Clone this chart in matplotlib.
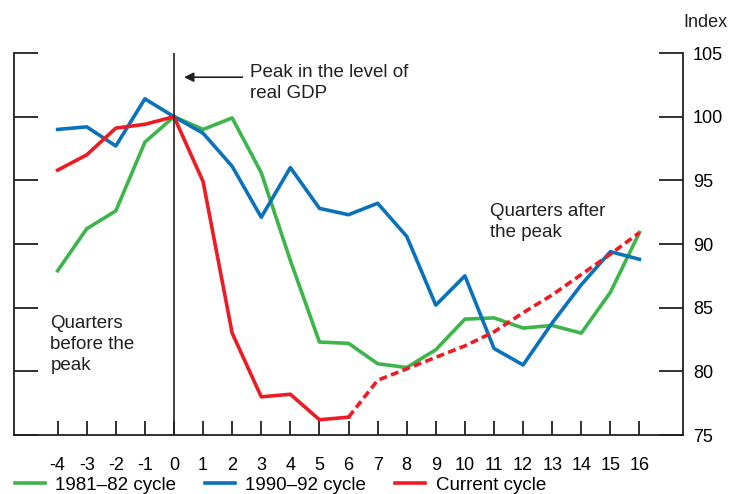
import matplotlib
matplotlib.use("Agg")
import matplotlib.pyplot as plt

plt.rcParams['font.family'] = ['Liberation Sans', 'DejaVu Sans']

quarters = list(range(-4, 17))
cycle_8182 = [87.9, 91.2, 92.6, 98.0, 100.0, 99.0, 99.9, 95.6, 88.7, 82.3, 82.2,
              80.6, 80.3, 81.7, 84.1, 84.2, 83.4, 83.6, 83.0, 86.2, 90.9]
cycle_9092 = [99.0, 99.2, 97.7, 101.4, 100.0, 98.7, 96.1, 92.1, 96.0, 92.8, 92.3,
              93.2, 90.6, 85.2, 87.5, 81.8, 80.5, 83.8, 86.8, 89.4, 88.8]
current = [95.8, 97.0, 99.1, 99.4, 100.0, 94.9, 83.0, 78.0, 78.2, 76.2, 76.4,
           79.3, 80.2, 81.1, 82.0, 83.1, 84.6, 86.0, 87.6, 89.2, 90.9]
split = 10  # index of quarter 6, where the projection starts

green = "#3db54a"
blue = "#0a72ba"
red = "#ed1c24"

fig = plt.figure(figsize=(7.29, 4.94), dpi=100)
ax = fig.add_axes([0.0192, 0.1194, 0.9178, 0.7733])

ax.plot(quarters, cycle_8182, color=green, lw=2.6, label="1981\u201382 cycle")
ax.plot(quarters, cycle_9092, color=blue, lw=2.6, label="1990\u201392 cycle")
ax.plot(quarters[:split + 1], current[:split + 1], color=red, lw=2.6, label="Current cycle")
ax.plot(quarters[split:], current[split:], color=red, lw=2.6, ls=(0, (2.2, 1.2)))

ax.axvline(0, color="#231f20", lw=1.2)

ax.set_xlim(-5.5, 17.5)
ax.set_ylim(75, 105)
ax.set_xticks(quarters)
ax.set_xticklabels([str(q) for q in quarters])
ax.set_yticks([75, 80, 85, 90, 95, 100, 105])

ax.spines['top'].set_visible(False)
for s in ['left', 'right', 'bottom']:
    ax.spines[s].set_color("#231f20")
    ax.spines[s].set_linewidth(1.3)

ax.tick_params(axis='x', direction='in', length=10, width=1.3, pad=16,
               labelsize=13, color="#231f20")
ax.tick_params(axis='y', direction='in', length=17, width=1.3, labelsize=13,
               left=True, right=True, labelleft=False, labelright=True,
               color="#231f20", pad=7)

ax.annotate("", xy=(0.25, 103.1), xytext=(2.45, 103.1),
            arrowprops=dict(arrowstyle="-|>", color="#231f20", lw=1.2,
                            mutation_scale=14))
ax.text(2.6, 104.1, "Peak in the level of\nreal GDP", fontsize=13.5,
        va="top", ha="left", linespacing=1.3, color="#231f20")
ax.text(-4.25, 84.4, "Quarters\nbefore the\npeak", fontsize=13.5,
        va="top", ha="left", linespacing=1.3, color="#231f20")
ax.text(10.85, 93.2, "Quarters after\nthe peak", fontsize=13.5,
        va="top", ha="left", linespacing=1.3, color="#231f20")
fig.text(0.937, 0.955, "Index", fontsize=13, ha="left", va="center", color="#231f20")

ax.legend(loc="center left", bbox_to_anchor=(0.02, 0.018), bbox_transform=fig.transFigure,
          ncol=3, frameon=False, fontsize=13.5, handlelength=1.6, handletextpad=0.55,
          columnspacing=1.55, borderaxespad=0, borderpad=0)

fig.savefig("out.png", dpi=100)
